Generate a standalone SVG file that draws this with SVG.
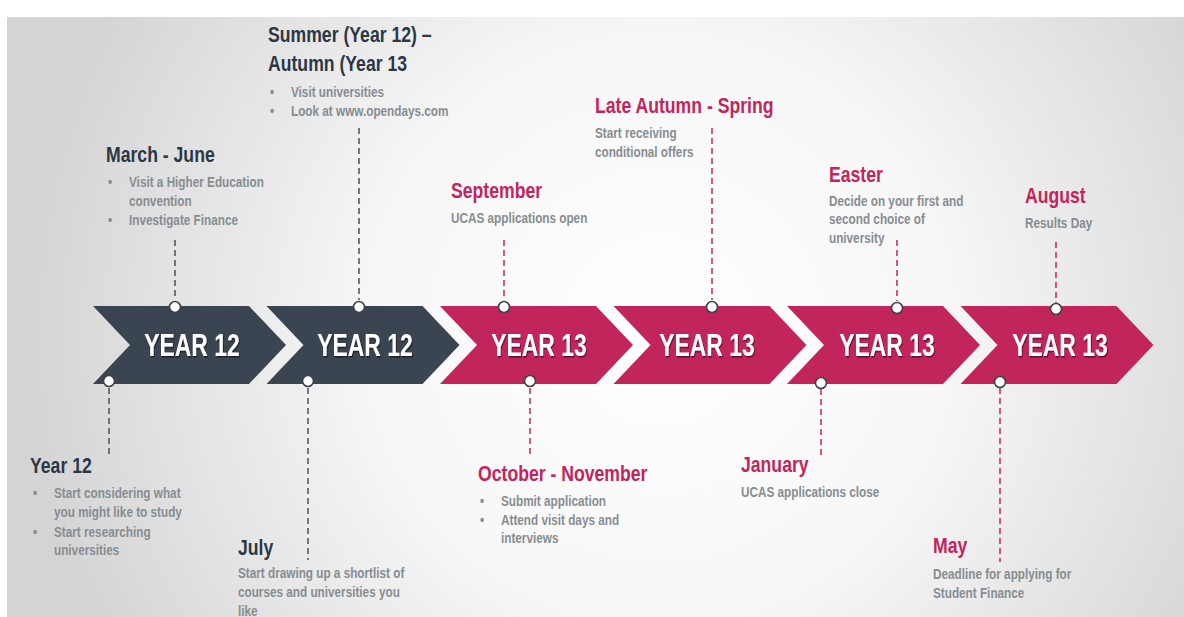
<svg xmlns="http://www.w3.org/2000/svg" width="1184" height="617" viewBox="0 0 1184 617">
<defs>
<radialGradient id="bg" gradientUnits="userSpaceOnUse" cx="660" cy="330" r="640">
<stop offset="0" stop-color="#ffffff"/>
<stop offset="0.45" stop-color="#f7f7f7"/>
<stop offset="1" stop-color="#d4d4d4"/>
</radialGradient>
<filter id="sh" x="-10%" y="-20%" width="130%" height="150%">
<feDropShadow dx="1.2" dy="1.5" stdDeviation="0.7" flood-color="#000" flood-opacity="0.55"/>
</filter>
</defs>
<style>
.dark{fill:#3b4551}
.pink{fill:#c2255c}
.lbl{font-family:"Liberation Sans",Arial,sans-serif;font-weight:bold;font-size:30.5px;fill:#fff;text-anchor:middle;filter:url(#sh);transform-box:fill-box;transform-origin:center;transform:scaleX(0.75)}
.h{font-family:"Liberation Sans",Arial,sans-serif;font-weight:bold;font-size:21.5px;transform-box:fill-box;transform-origin:0 0;transform:scaleX(0.82)}
.hd{fill:#2c3745}
.hp{fill:#c2255c}
.b{font-family:"Liberation Sans",Arial,sans-serif;font-weight:bold;font-size:14px;fill:#868d91;transform-box:fill-box;transform-origin:0 0;transform:scaleX(0.84)}
.dl{stroke:#4a5058;stroke-width:1.5;stroke-dasharray:6 4;fill:none}
.dp{stroke:#c2255c;stroke-width:1.5;stroke-dasharray:6 4;fill:none}
.dot{fill:#fff;stroke:#3d4147;stroke-width:1.6}
</style>
<rect width="1184" height="617" fill="#fff"/>
<rect x="7" y="17" width="1177" height="600" fill="url(#bg)"/>

<g id="connectors">
<line class="dl" x1="359" y1="128" x2="359" y2="300"/>
<line class="dl" x1="175" y1="240" x2="175" y2="300"/>
<line class="dp" x1="504" y1="240" x2="504" y2="300"/>
<line class="dp" x1="712" y1="128" x2="712" y2="300"/>
<line class="dp" x1="897" y1="240" x2="897" y2="301"/>
<line class="dp" x1="1056" y1="242" x2="1056" y2="303"/>
<line class="dl" x1="109" y1="388" x2="109" y2="456"/>
<line class="dl" x1="308" y1="388" x2="308" y2="560"/>
<line class="dp" x1="530" y1="388" x2="530" y2="456"/>
<line class="dp" x1="821" y1="389" x2="821" y2="458"/>
<line class="dp" x1="1000" y1="388" x2="1000" y2="562"/>
</g>

<g id="chevron1">
<path class="dark" d="M93,306 L249,306 L286,345 L249,384 L93,384 L130,345 Z"/>
<text class="lbl" x="192" y="356">YEAR 12</text>
</g>
<g id="chevron2">
<path class="dark" d="M266.5,306 L422.5,306 L459.5,345 L422.5,384 L266.5,384 L303.5,345 Z"/>
<text class="lbl" x="365" y="356">YEAR 12</text>
</g>
<g id="chevron3">
<path class="pink" d="M440,306 L596,306 L633,345 L596,384 L440,384 L477,345 Z"/>
<text class="lbl" x="539" y="356">YEAR 13</text>
</g>
<g id="chevron4">
<path class="pink" d="M613.5,306 L769.5,306 L806.5,345 L769.5,384 L613.5,384 L650.5,345 Z"/>
<text class="lbl" x="707" y="356">YEAR 13</text>
</g>
<g id="chevron5">
<path class="pink" d="M787,306 L943,306 L980,345 L943,384 L787,384 L824,345 Z"/>
<text class="lbl" x="887" y="356">YEAR 13</text>
</g>
<g id="chevron6">
<path class="pink" d="M960.5,306 L1116.5,306 L1153.5,345 L1116.5,384 L960.5,384 L997.5,345 Z"/>
<text class="lbl" x="1060" y="356">YEAR 13</text>
</g>

<g id="dots">
<circle class="dot" cx="175" cy="307" r="5.5"/>
<circle class="dot" cx="359" cy="307" r="5.5"/>
<circle class="dot" cx="504" cy="307" r="5.5"/>
<circle class="dot" cx="712" cy="307" r="5.5"/>
<circle class="dot" cx="897" cy="308" r="5.5"/>
<circle class="dot" cx="1056" cy="309" r="5.5"/>
<circle class="dot" cx="109" cy="381" r="5.5"/>
<circle class="dot" cx="308" cy="381" r="5.5"/>
<circle class="dot" cx="530" cy="381" r="5.5"/>
<circle class="dot" cx="821" cy="383" r="5.5"/>
<circle class="dot" cx="1000" cy="382" r="5.5"/>
</g>

<g id="summer">
<text class="h hd" x="268" y="42">Summer (Year 12) –</text>
<text class="h hd" x="268" y="71">Autumn (Year 13</text>
<text class="b" x="270" y="97">•</text><text class="b" x="291" y="97">Visit universities</text>
<text class="b" x="270" y="116">•</text><text class="b" x="291" y="116">Look at www.opendays.com</text>
</g>
<g id="march">
<text class="h hd" x="106" y="162">March - June</text>
<text class="b" x="108" y="187">•</text><text class="b" x="129" y="187">Visit a Higher Education</text>
<text class="b" x="129" y="206">convention</text>
<text class="b" x="108" y="225">•</text><text class="b" x="129" y="225">Investigate Finance</text>
</g>
<g id="september">
<text class="h hp" x="451" y="198">September</text>
<text class="b" x="451" y="223">UCAS applications open</text>
</g>
<g id="lateautumn">
<text class="h hp" x="595" y="113">Late Autumn - Spring</text>
<text class="b" x="595" y="138">Start receiving</text>
<text class="b" x="595" y="157">conditional offers</text>
</g>
<g id="easter">
<text class="h hp" x="829" y="182">Easter</text>
<text class="b" x="829" y="206">Decide on your first and</text>
<text class="b" x="829" y="224">second choice of</text>
<text class="b" x="829" y="243">university</text>
</g>
<g id="august">
<text class="h hp" x="1025" y="203">August</text>
<text class="b" x="1025" y="228">Results Day</text>
</g>
<g id="year12">
<text class="h hd" x="30" y="473">Year 12</text>
<text class="b" x="33" y="498">•</text><text class="b" x="54" y="498">Start considering what</text>
<text class="b" x="54" y="517">you might like to study</text>
<text class="b" x="33" y="537">•</text><text class="b" x="54" y="537">Start researching</text>
<text class="b" x="54" y="555">universities</text>
</g>
<g id="july">
<text class="h hd" x="238" y="555">July</text>
<text class="b" x="238" y="578">Start drawing up a shortlist of</text>
<text class="b" x="238" y="597">courses and universities you</text>
<text class="b" x="238" y="616">like</text>
</g>
<g id="october">
<text class="h hp" x="478" y="481">October - November</text>
<text class="b" x="480" y="506">•</text><text class="b" x="501" y="506">Submit application</text>
<text class="b" x="480" y="525">•</text><text class="b" x="501" y="525">Attend visit days and</text>
<text class="b" x="501" y="543">interviews</text>
</g>
<g id="january">
<text class="h hp" x="741" y="472">January</text>
<text class="b" x="741" y="497">UCAS applications close</text>
</g>
<g id="may">
<text class="h hp" x="933" y="553">May</text>
<text class="b" x="933" y="579">Deadline for applying for</text>
<text class="b" x="933" y="598">Student Finance</text>
</g>
</svg>
